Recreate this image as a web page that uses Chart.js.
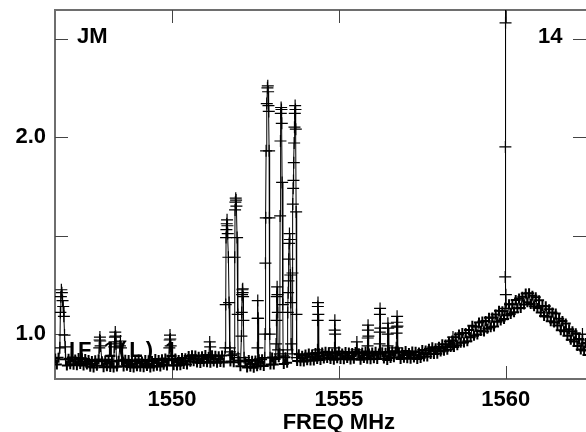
<!DOCTYPE html>
<html>
<head>
<meta charset="utf-8">
<script src="https://cdn.jsdelivr.net/npm/chart.js@4/dist/chart.umd.min.js"></script>
<style>
  html, body { margin: 0; padding: 0; background: #fff; }
</style>
</head>
<body>
<canvas id="spec" width="586" height="432"></canvas>
<script>
// channel grid of the spectrum (MHz)
const freqStart = 1546.5;
const freqStep = 0.05;

// one row per MHz
const baseline = [
  0.876,0.846,0.880,0.849,0.878,0.843,0.872,0.840,0.875,0.847,0.881,0.844,0.871,0.842,0.879,0.848,0.877,0.841,0.874,0.845,
  0.869,0.834,0.863,0.830,0.867,0.839,0.871,0.835,0.862,0.832,0.866,0.837,0.870,0.833,0.861,0.831,0.868,0.836,0.865,0.829,
  0.866,0.836,0.870,0.839,0.868,0.833,0.862,0.830,0.865,0.837,0.871,0.834,0.861,0.832,0.869,0.838,0.867,0.831,0.864,0.835,
  0.874,0.839,0.868,0.835,0.872,0.844,0.876,0.840,0.867,0.837,0.871,0.842,0.876,0.841,0.868,0.842,0.878,0.848,0.877,0.845,
  0.889,0.859,0.893,0.862,0.891,0.856,0.885,0.853,0.888,0.860,0.894,0.857,0.884,0.855,0.892,0.861,0.890,0.854,0.887,0.858,
  0.891,0.856,0.885,0.852,0.889,0.861,0.893,0.857,0.884,0.854,0.866,0.837,0.870,0.833,0.861,0.831,0.868,0.836,0.865,0.829,
  0.866,0.837,0.872,0.842,0.872,0.838,0.868,0.837,0.873,0.846,0.881,0.845,0.873,0.845,0.883,0.853,0.883,0.848,0.882,0.854,
  0.889,0.855,0.885,0.853,0.891,0.864,0.897,0.862,0.890,0.861,0.896,0.867,0.902,0.866,0.895,0.866,0.904,0.873,0.903,0.868,
  0.906,0.876,0.910,0.879,0.908,0.873,0.902,0.870,0.905,0.877,0.911,0.874,0.901,0.872,0.909,0.878,0.907,0.871,0.904,0.875,
  0.909,0.874,0.903,0.870,0.907,0.879,0.911,0.875,0.902,0.872,0.906,0.877,0.910,0.873,0.901,0.871,0.908,0.876,0.905,0.869,
  0.909,0.879,0.913,0.882,0.911,0.876,0.905,0.873,0.908,0.880,0.914,0.877,0.904,0.875,0.912,0.881,0.910,0.874,0.907,0.878,
  0.919,0.886,0.917,0.886,0.925,0.899,0.933,0.899,0.928,0.900,0.936,0.911,0.948,0.915,0.947,0.921,0.962,0.934,0.967,0.935,
  0.984,0.943,0.998,0.956,1.005,0.957,1.006,0.963,1.021,0.984,1.042,0.991,1.037,0.998,1.059,1.016,1.064,1.013,1.067,1.027,
  1.083,1.035,1.084,1.039,1.100,1.063,1.118,1.069,1.116,1.077,1.134,1.096,1.152,1.102,1.151,1.111,1.173,1.131,1.181,1.132,
  1.189,1.150,1.206,1.162,1.207,1.153,1.194,1.141,1.187,1.133,1.172,1.109,1.143,1.092,1.141,1.088,1.126,1.065,1.109,1.059,
  1.104,1.043,1.078,1.019,1.066,1.014,1.054,0.991,1.024,0.971,1.014,0.962,1.004,0.940,0.975,0.922,0.971,0.917,0.955,0.894
];

// interference spikes: [freq, value] in the order the trace runs
const spikeGroups = [
  [[1546.64,0.93],[1546.655,1.11],[1546.67,1.19],[1546.685,1.225],[1546.70,1.21],[1546.72,1.17],[1546.74,1.14],[1546.76,1.09],[1546.78,0.995],[1546.80,0.935],[1546.81,0.87]],
  [[1547.82,0.93],[1547.83,0.97],[1547.84,0.985],[1547.85,0.965],[1547.86,0.94]],
  [[1548.27,0.935],[1548.28,0.96],[1548.29,0.985],[1548.30,1.01],[1548.31,0.99],[1548.32,0.95]],
  [[1548.44,0.94],[1548.455,0.965],[1548.47,0.93]],
  [[1549.92,0.93],[1549.93,0.97],[1549.94,0.995],[1549.95,0.975],[1549.96,0.94]],
  [[1551.13,0.96],[1551.145,0.935]],
  [[1551.60,0.93],[1551.61,1.15],[1551.62,1.49],[1551.63,1.53],[1551.64,1.56],[1551.65,1.58],[1551.66,1.55],[1551.67,1.51],[1551.69,1.39],[1551.71,1.16],[1551.73,0.93],[1551.74,0.91]],
  [[1551.87,0.90],[1551.88,1.39],[1551.89,1.63],[1551.90,1.67],[1551.91,1.69],[1551.92,1.68],[1551.93,1.65],[1551.95,1.49],[1551.97,1.10],[1551.98,0.88]],
  [[1552.08,0.99],[1552.09,1.11],[1552.10,1.20],[1552.11,1.225],[1552.115,1.21],[1552.12,1.23],[1552.13,1.19],[1552.14,1.07],[1552.16,0.88]],
  [[1552.56,0.93],[1552.565,1.08],[1552.57,1.17],[1552.58,1.08],[1552.59,0.87]],
  [[1552.78,0.88],[1552.79,1.00],[1552.80,1.36],[1552.81,1.59],[1552.82,1.93],[1552.84,2.17],[1552.86,2.25],[1552.87,2.26],[1552.88,2.23],[1552.89,2.16],[1552.90,2.13],[1552.91,1.93],[1552.92,1.59],[1552.93,1.00],[1552.94,0.88]],
  [[1553.12,0.95],[1553.13,1.07],[1553.14,1.19],[1553.15,1.24],[1553.16,1.20],[1553.17,1.11],[1553.18,0.92]],
  [[1553.23,0.90],[1553.24,1.60],[1553.25,1.98],[1553.26,2.12],[1553.27,2.15],[1553.28,2.14],[1553.29,2.07],[1553.30,1.77],[1553.32,1.15],[1553.33,0.89]],
  [[1553.46,0.92],[1553.47,1.11],[1553.48,1.21],[1553.49,1.27],[1553.50,1.38],[1553.51,1.46],[1553.52,1.51],[1553.53,1.48],[1553.545,1.30],[1553.56,1.16],[1553.57,0.95]],
  [[1553.60,0.90],[1553.61,1.31],[1553.62,1.66],[1553.63,1.74],[1553.64,1.78],[1553.65,1.87],[1553.66,1.97],[1553.67,2.05],[1553.68,2.12],[1553.69,2.16],[1553.70,2.14],[1553.71,2.04],[1553.72,1.62],[1553.73,1.10],[1553.74,0.88]],
  [[1554.36,0.92],[1554.365,1.07],[1554.37,1.14],[1554.375,1.16],[1554.385,1.10],[1554.39,0.90]],
  [[1554.87,0.93],[1554.875,1.02],[1554.88,1.07],[1554.89,1.00],[1554.895,0.90]],
  [[1555.53,0.92],[1555.54,0.96],[1555.55,0.90]],
  [[1555.86,0.94],[1555.865,0.98],[1555.87,1.02],[1555.875,1.045],[1555.885,0.99],[1555.89,0.90]],
  [[1556.22,0.95],[1556.225,1.01],[1556.23,1.10],[1556.235,1.13],[1556.245,1.03],[1556.25,0.90]],
  [[1556.46,0.94],[1556.465,1.00],[1556.47,1.055],[1556.48,1.03],[1556.49,0.91]],
  [[1556.72,0.93],[1556.73,1.005],[1556.735,1.035],[1556.74,1.06],[1556.745,1.09],[1556.755,1.04],[1556.77,0.91]],
  [[1558.41,0.95],[1558.42,0.985],[1558.43,0.94]],
  [[1559.98,1.13],[1559.985,1.29],[1559.99,1.95],[1559.995,2.58],[1560.00,2.90],[1560.005,1.20]],
  [[1562.29,0.97],[1562.30,1.00],[1562.31,0.95]]
];

const xTicks = [1550, 1555, 1560];
const yTicks = [1.0, 1.5, 2.0, 2.5];

// merge grid channels and spikes into one trace
const ranges = spikeGroups.map(g => [g[0][0], g[g.length - 1][0]]);
const points = [];
baseline.forEach((v, i) => {
  const f = Math.round((freqStart + i * freqStep) * 1000) / 1000;
  if (ranges.some(r => f >= r[0] && f <= r[1])) return;
  points.push({ x: f, y: v, spike: false });
});
spikeGroups.forEach(g => g.forEach(p => points.push({ x: p[0], y: p[1], spike: true })));
points.sort((a, b) => a.x - b.x);

const FONT = '"Liberation Sans", Arial, Helvetica, sans-serif';
const isSpike = c => !!(c.raw && c.raw.spike);

const framePlugin = {
  id: 'frame',
  beforeDatasetsDraw(chart) {
    const { ctx, chartArea: a, scales } = chart;
    ctx.save();
    ctx.strokeStyle = '#6e6e6e';
    ctx.lineWidth = 2;
    ctx.beginPath();
    ctx.moveTo(a.right + 2, a.top);
    ctx.lineTo(a.left, a.top);
    ctx.lineTo(a.left, a.bottom);
    ctx.lineTo(a.right + 2, a.bottom);
    ctx.stroke();

    ctx.strokeStyle = '#444';
    ctx.lineWidth = 1;
    ctx.beginPath();
    xTicks.forEach(v => {
      const px = Math.round(scales.x.getPixelForValue(v)) + 0.5;
      ctx.moveTo(px, a.bottom); ctx.lineTo(px, a.bottom - 13);
      ctx.moveTo(px, a.top); ctx.lineTo(px, a.top + 13);
    });
    yTicks.forEach(v => {
      const py = Math.round(scales.y.getPixelForValue(v)) + 0.5;
      ctx.moveTo(a.left, py); ctx.lineTo(a.left + 13, py);
      ctx.moveTo(a.right, py); ctx.lineTo(a.right - 13, py);
    });
    ctx.stroke();

    ctx.fillStyle = '#000';
    ctx.font = 'bold 22px ' + FONT;
    ctx.textBaseline = 'alphabetic';
    ctx.textAlign = 'left';
    ctx.fillText('JM', 77, 43);
    ctx.fillText('14', 538, 43);
    ctx.letterSpacing = '3px';
    ctx.fillText('IF 1(L) 1', 69, 357);
    ctx.restore();
  },
  afterDraw(chart) {
    const { ctx, scales } = chart;
    ctx.save();
    ctx.fillStyle = '#000';
    ctx.font = 'bold 22px ' + FONT;
    ctx.textAlign = 'center';
    ctx.textBaseline = 'alphabetic';
    ctx.fillText('FREQ MHz', scales.x.getPixelForValue(1555), 429);
    ctx.restore();
  }
};

new Chart(document.getElementById('spec'), {
  type: 'line',
  data: {
    datasets: [{
      data: points,
      borderColor: '#000',
      borderWidth: 1,
      tension: 0,
      pointStyle: 'cross',
      pointRadius: c => isSpike(c) ? 6 : 5,
      pointHoverRadius: c => isSpike(c) ? 6 : 5,
      pointBorderColor: '#000',
      pointBorderWidth: c => isSpike(c) ? 1.2 : 2
    }]
  },
  options: {
    responsive: false,
    animation: false,
    devicePixelRatio: 1,
    layout: { autoPadding: false, padding: { top: 10, right: 0, left: 0, bottom: 0 } },
    plugins: { legend: { display: false }, tooltip: { enabled: false } },
    scales: {
      x: {
        type: 'linear',
        min: 1546.494,
        max: 1562.406,
        border: { display: false },
        grid: { display: false, drawTicks: false },
        afterBuildTicks: s => { s.ticks = xTicks.map(v => ({ value: v })); },
        afterFit: s => { s.height = 53; s.paddingLeft = 0; s.paddingRight = 0; },
        ticks: {
          padding: 8,
          color: '#000',
          font: { family: FONT, size: 22, weight: 'bold' },
          callback: v => String(v)
        }
      },
      y: {
        min: 0.772,
        max: 2.645,
        border: { display: false },
        grid: { display: false, drawTicks: false },
        afterBuildTicks: s => { s.ticks = yTicks.map(v => ({ value: v })); },
        afterFit: s => { s.width = 55; s.paddingTop = 0; s.paddingBottom = 0; },
        ticks: {
          padding: 9,
          color: '#000',
          font: { family: FONT, size: 22, weight: 'bold' },
          callback: v => (v === 1 || v === 2) ? v.toFixed(1) : ''
        }
      }
    }
  },
  plugins: [framePlugin]
});
</script>
</body>
</html>
